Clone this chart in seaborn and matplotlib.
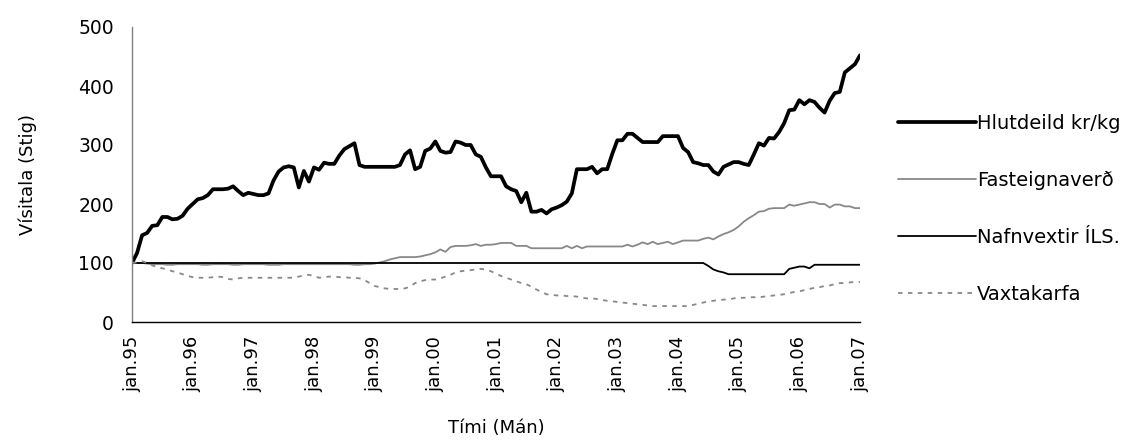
import numpy as np
import pandas as pd
import matplotlib
matplotlib.use("Agg")
import matplotlib.pyplot as plt
import seaborn as sns

# Monthly index values, jan.95 .. jan.07 (145 months)
hlutdeild = [
    100, 117, 147, 151, 163, 164, 178, 178, 174, 175, 180, 192,
    200, 208, 210, 215, 225, 225, 225, 226, 230, 222, 215, 219,
    217, 215, 215, 218, 240, 255, 262, 264, 262, 228, 256, 238,
    262, 258, 270, 268, 268, 282, 293, 298, 303, 266, 263, 263,
    263, 263, 263, 263, 263, 266, 284, 291, 259, 263, 290, 294,
    306, 290, 287, 288, 306, 304, 300, 300, 284, 280, 262, 247,
    247, 247, 230, 225, 222, 203, 219, 187, 187, 190, 184, 191,
    194, 198, 204, 218, 259, 259, 259, 263, 252, 259, 259, 285,
    308, 308, 319, 319, 312, 305, 305, 305, 305, 315, 315, 315,
    315, 295, 288, 271, 269, 266, 266, 255, 250, 263, 267, 271,
    271, 268, 266, 284, 303, 299, 312, 311, 322, 337, 359, 360,
    376, 369, 376, 373, 363, 355, 375, 388, 390, 423, 430, 437,
    452,
]

fasteignaverd = [
    100, 100, 100, 99, 98, 98, 98, 97, 97, 98, 98, 98,
    98, 98, 97, 97, 98, 98, 98, 98, 97, 97, 98, 98,
    98, 98, 98, 97, 97, 97, 98, 98, 98, 98, 98, 98,
    98, 98, 98, 98, 98, 98, 98, 98, 97, 97, 98, 98,
    99, 101, 103, 106, 108, 110, 110, 110, 110, 111, 113, 115,
    118, 123, 119, 127, 129, 129, 129, 130, 132, 129, 131, 131,
    132, 134, 134, 134, 129, 129, 129, 125, 125, 125, 125, 125,
    125, 125, 129, 125, 129, 125, 128, 128, 128, 128, 128, 128,
    128, 128, 131, 128, 131, 135, 132, 136, 132, 134, 136, 132,
    135, 138, 138, 138, 138, 141, 143, 140, 145, 149, 152, 156,
    162, 170, 176, 181, 187, 188, 192, 193, 193, 193, 199, 197,
    199, 201, 203, 203, 200, 200, 194, 199, 199, 196, 196, 193,
    193,
]

nafnvextir = [100] * 114 + [
    95, 89, 86, 84, 81, 81, 81, 81, 81, 81, 81, 81,
    81, 81, 81, 81, 90, 92, 94, 94, 91, 97, 97, 97,
    97, 97, 97, 97, 97, 97, 97,
]

vaxtakarfa = [
    100, 101, 103, 100, 96, 93, 91, 89, 86, 84, 81, 78,
    76, 75, 75, 75, 76, 77, 76, 73, 72, 74, 75, 75,
    75, 75, 75, 75, 75, 75, 75, 75, 75, 77, 79, 80,
    78, 75, 76, 77, 77, 76, 76, 75, 75, 74, 71, 66,
    61, 59, 57, 56, 56, 56, 57, 60, 66, 69, 71, 72,
    72, 74, 77, 80, 84, 86, 87, 88, 89, 90, 89, 86,
    82, 78, 75, 72, 69, 66, 64, 60, 55, 51, 47, 46,
    45, 45, 44, 44, 43, 41, 40, 40, 39, 37, 36, 35,
    34, 33, 32, 31, 30, 29, 28, 27, 27, 27, 27, 27,
    27, 27, 27, 29, 31, 33, 35, 36, 37, 38, 38, 40,
    41, 41, 42, 42, 42, 43, 44, 45, 46, 47, 49, 51,
    52, 54, 56, 58, 59, 61, 62, 64, 66, 66, 67, 68,
    68,
]

series_names = ["Hlutdeild kr/kg", "Fasteignaverð", "Nafnvextir ÍLS.", "Vaxtakarfa"]
tick_labels = ["jan.95", "jan.96", "jan.97", "jan.98", "jan.99", "jan.00", "jan.01",
               "jan.02", "jan.03", "jan.04", "jan.05", "jan.06", "jan.07"]
y_ticks = [0, 100, 200, 300, 400, 500]

months = np.arange(len(hlutdeild))
df = pd.DataFrame({
    "month": np.tile(months, 4),
    "value": hlutdeild + fasteignaverd + nafnvextir + vaxtakarfa,
    "series": np.repeat(series_names, len(months)),
})

sns.set_style("white")
plt.rcParams["font.family"] = ["DejaVu Sans"]
plt.rcParams["text.color"] = "black"
plt.rcParams["axes.labelcolor"] = "black"
plt.rcParams["xtick.color"] = "black"
plt.rcParams["ytick.color"] = "black"
FS = 13

fig = plt.figure(figsize=(11.35, 4.43), dpi=100)
ax = fig.add_axes([132 / 1135, 1 - 322 / 443, (860 - 132) / 1135, (322 - 27) / 443])

styles = {
    "Hlutdeild kr/kg": dict(color="black", linewidth=2.7, linestyle="-"),
    "Fasteignaverð": dict(color="#888888", linewidth=1.3, linestyle="-"),
    "Nafnvextir ÍLS.": dict(color="black", linewidth=1.3, linestyle="-"),
    "Vaxtakarfa": dict(color="#888888", linewidth=1.3, linestyle=(0, (2.5, 3))),
}

for name in series_names:
    sub = df[df["series"] == name]
    sns.lineplot(data=sub, x="month", y="value", ax=ax, label=name, **styles[name])

ax.set_xlim(0, len(months) - 1)
ax.set_ylim(0, 500)
ax.set_xticks(np.arange(0, len(months), 12))
ax.set_xticklabels(tick_labels, rotation=90, fontsize=FS, color="black")
ax.set_yticks(y_ticks)
ax.set_yticklabels([str(v) for v in y_ticks], fontsize=13.5, color="black")
ax.tick_params(axis="both", direction="out", length=6, width=1)
ax.tick_params(axis="y", color="#808080", pad=7)
ax.tick_params(axis="x", color="black", pad=4)

for side in ["top", "right"]:
    ax.spines[side].set_visible(False)
ax.spines["left"].set_color("#808080")
ax.spines["bottom"].set_color("black")
ax.spines["left"].set_linewidth(1)
ax.spines["bottom"].set_linewidth(1)

ax.set_xlabel("Tími (Mán)", fontsize=FS, color="black")
ax.set_ylabel("Vísitala (Stig)", fontsize=FS, color="black")
ax.xaxis.set_label_coords(0.5, -0.33)
ax.yaxis.set_label_coords(-0.13, 0.5)

ax.legend(loc="center left", bbox_to_anchor=(898 / 1135, 1 - 209 / 443),
          bbox_transform=fig.transFigure, frameon=False, fontsize=14,
          handlelength=4.0, handletextpad=0.05, labelspacing=1.95, borderpad=0,
          borderaxespad=0)

fig.savefig("out.png", dpi=100)
